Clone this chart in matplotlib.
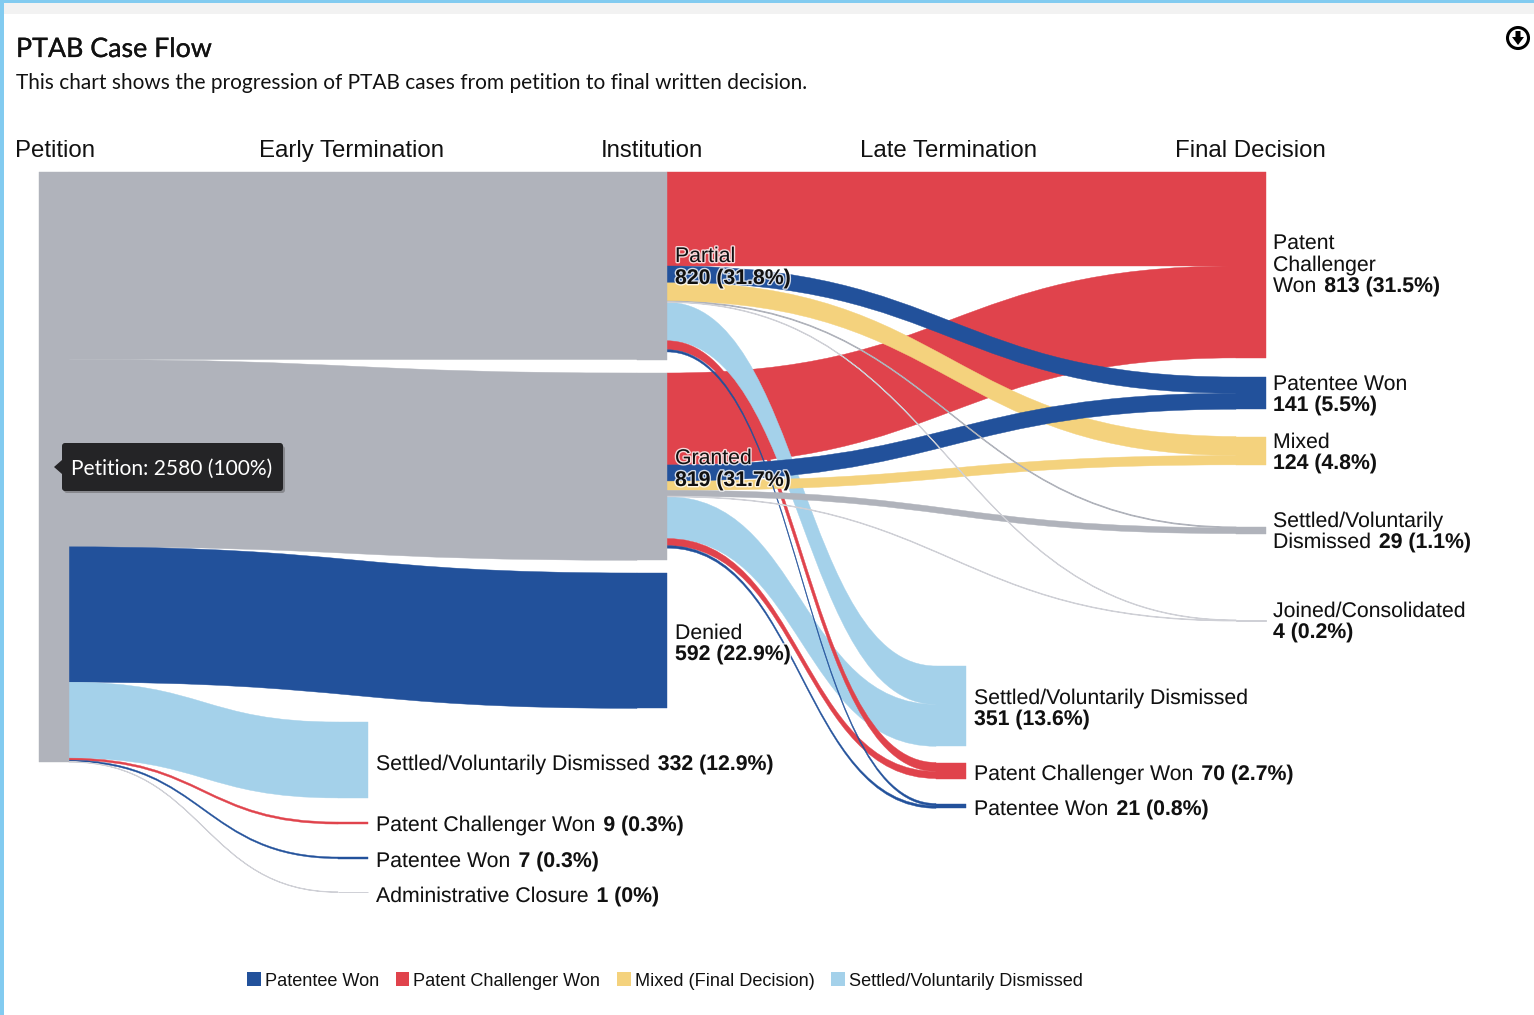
#!/usr/bin/env python3
import matplotlib
matplotlib.use("Agg")
import matplotlib.pyplot as plt
import matplotlib.patheffects as pe
from matplotlib.path import Path
from matplotlib.patches import PathPatch, Rectangle, Circle, Polygon, FancyBboxPatch, Patch

BLUE = "#22519b"
RED = "#e0434c"
YELLOW = "#f4d27d"
LIGHT = "#a4d1ea"
GREY = "#b0b3bb"
PALE = "#cfd0d6"

# nodes: name, column, cases
node_names = ["Petition", "Partial", "Granted", "Denied",
              "EarlySettled", "EarlyPC", "EarlyPO", "EarlyAdmin",
              "LateSettled", "LatePC", "LatePO",
              "FinalPC", "FinalPO", "FinalMixed", "FinalSettled", "FinalJoined"]
node_cases = [2580, 820, 819, 592, 332, 9, 7, 1, 351, 70, 21, 813, 141, 124, 29, 4]
node_colors = [GREY, GREY, GREY, BLUE, LIGHT, RED, BLUE, PALE, LIGHT, RED, BLUE,
               RED, BLUE, YELLOW, GREY, PALE]

# links in stacking order at each node
link_from = ["Petition"] * 7 + \
    ["Partial"] * 8 + ["Granted"] * 8
link_to = ["Partial", "Granted", "Denied", "EarlySettled", "EarlyPC", "EarlyPO", "EarlyAdmin",
           "FinalPC", "FinalPO", "FinalMixed", "FinalSettled", "FinalJoined", "LateSettled", "LatePC", "LatePO",
           "FinalPC", "FinalPO", "FinalMixed", "FinalSettled", "FinalJoined", "LateSettled", "LatePC", "LatePO"]
link_cases = [820, 819, 592, 332, 9, 7, 1,
              411, 71, 83, 3, 2, 168, 39, 10,
              402, 70, 41, 26, 2, 183, 31, 11]
link_colors = [GREY, GREY, BLUE, LIGHT, RED, BLUE, PALE,
               RED, BLUE, YELLOW, GREY, PALE, LIGHT, RED, BLUE,
               RED, BLUE, YELLOW, GREY, PALE, LIGHT, RED, BLUE]

column_titles = ["Petition", "Early Termination", "Institution", "Late Termination", "Final Decision"]
legend_labels = ["Patentee Won", "Patent Challenger Won", "Mixed (Final Decision)", "Settled/Voluntarily Dismissed"]

# layout in pixels
PX_PER_CASE = 590 / 2580
NODE_W = 30
column_of = dict(Petition=0, EarlySettled=1, EarlyPC=1, EarlyPO=1, EarlyAdmin=1,
                 Partial=2, Granted=2, Denied=2, LateSettled=3, LatePC=3, LatePO=3,
                 FinalPC=4, FinalPO=4, FinalMixed=4, FinalSettled=4, FinalJoined=4)
column_x = [39, 338, 637, 936, 1236]
node_top = dict(Petition=172, Partial=172, Granted=373, Denied=573,
                EarlySettled=722, EarlyPC=822, EarlyPO=857, EarlyAdmin=892,
                LateSettled=666, LatePC=762.5, LatePO=803.5,
                FinalPC=172, FinalPO=377, FinalMixed=436.5, FinalSettled=527, FinalJoined=620)
CURVE = 0.5
# back to front, everything out of Petition goes first
layers = [("Final", RED), ("Late", LIGHT), ("Late", RED), ("Final", YELLOW),
          ("Final", BLUE), ("Late", BLUE), ("Final", GREY), ("Final", PALE)]

fig = plt.figure(figsize=(15.34, 10.15), dpi=100)
ax = fig.add_axes([0, 0, 1, 1])
ax.set_xlim(0, 1534)
ax.set_ylim(1015, 0)
ax.axis("off")

# page frame
ax.add_patch(Rectangle((0, 0), 1534, 14, fc="#f2f2f2", ec="none"))
ax.add_patch(Rectangle((0, 0), 1534, 3, fc="#82cbf0", ec="none"))
ax.add_patch(Rectangle((0, 0), 4, 1015, fc="#82cbf0", ec="none"))

# stack the links on their nodes
out_y = dict(node_top)
in_y = dict(node_top)
ribbons = []
for src, dst, n, col in zip(link_from, link_to, link_cases, link_colors):
    h = n * PX_PER_CASE
    x0 = column_x[column_of[src]] + NODE_W
    x1 = column_x[column_of[dst]]
    layer = -1
    for i, (prefix, c) in enumerate(layers):
        if src != "Petition" and dst.startswith(prefix) and col == c:
            layer = i
    ribbons.append((layer, x0, x1, out_y[src], in_y[dst], h, col))
    out_y[src] += h
    in_y[dst] += h

for layer, x0, x1, y0, y1, h, c in sorted(ribbons, key=lambda r: r[0]):
    k = (x1 - x0) * CURVE
    verts = [(x0, y0), (x0 + k, y0), (x1 - k, y1), (x1, y1),
             (x1, y1 + h), (x1 - k, y1 + h), (x0 + k, y0 + h), (x0, y0 + h), (x0, y0)]
    codes = [Path.MOVETO, Path.CURVE4, Path.CURVE4, Path.CURVE4,
             Path.LINETO, Path.CURVE4, Path.CURVE4, Path.CURVE4, Path.CLOSEPOLY]
    # very thin links still show about a pixel wide
    lw = 0.7 if h < 1 else 0.3
    ax.add_patch(PathPatch(Path(verts, codes), fc=c, ec=c, lw=lw, zorder=2))

for name, n, c in zip(node_names, node_cases, node_colors):
    x = column_x[column_of[name]]
    h = n * PX_PER_CASE
    ax.add_patch(Rectangle((x, node_top[name]), NODE_W, h, fc=c, ec=c, lw=0.7 if h < 1 else 0.3, zorder=3))

# header text
ax.text(16, 57, "PTAB Case Flow", fontsize=19.3, family="Lato", color="#111111",
        path_effects=[pe.withStroke(linewidth=0.2, foreground="#111111")])
ax.text(16, 89, "This chart shows the progression of PTAB cases from petition to final written decision.",
        fontsize=15, family="Lato", color="#111111")
ax.add_patch(Circle((1518, 38), 10.5, fc="white", ec="black", lw=2.2))
ax.add_patch(Polygon([(1515.5, 31), (1520.5, 31), (1520.5, 37), (1524, 37), (1518, 45), (1512, 37), (1515.5, 37)],
                     fc="black", ec="none"))

for title, x in zip(column_titles, [15, 259, 601, 860, 1175]):
    ax.text(x, 157, title, family="Liberation Sans", fontsize=17.3, color="#111111", zorder=6)

LABEL = dict(family="Liberation Sans", fontsize=15.3, color="#111111", zorder=6)
renderer = fig.canvas.get_renderer()
halo = [pe.withStroke(linewidth=2, foreground="white", alpha=0.8)]


def label(x, y, regular, bold=""):
    end = x
    if regular:
        t = ax.text(x, y, regular, va="baseline", path_effects=halo, **LABEL)
        end = t.get_window_extent(renderer).x1 + 8
    if bold:
        ax.text(end if regular else x, y, bold, va="baseline", weight="bold", path_effects=halo, **LABEL)


label(675, 262, "Partial")
label(675, 284, "", "820 (31.8%)")
label(675, 464, "Granted")
label(675, 486, "", "819 (31.7%)")
label(675, 639, "Denied")
label(675, 660, "", "592 (22.9%)")
label(376, 770, "Settled/Voluntarily Dismissed", "332 (12.9%)")
label(376, 831, "Patent Challenger Won", "9 (0.3%)")
label(376, 867, "Patentee Won", "7 (0.3%)")
label(376, 902, "Administrative Closure", "1 (0%)")
label(974, 704, "Settled/Voluntarily Dismissed")
label(974, 725, "", "351 (13.6%)")
label(974, 780, "Patent Challenger Won", "70 (2.7%)")
label(974, 815, "Patentee Won", "21 (0.8%)")
label(1273, 249, "Patent")
label(1273, 271, "Challenger")
label(1273, 292, "Won", "813 (31.5%)")
label(1273, 390, "Patentee Won")
label(1273, 411, "", "141 (5.5%)")
label(1273, 448, "Mixed")
label(1273, 469, "", "124 (4.8%)")
label(1273, 527, "Settled/Voluntarily")
label(1273, 548, "Dismissed", "29 (1.1%)")
label(1273, 617, "Joined/Consolidated")
label(1273, 638, "", "4 (0.2%)")

# tooltip
ax.add_patch(FancyBboxPatch((64, 446), 221, 47, boxstyle="round,pad=0,rounding_size=3",
                            fc="#555555", ec="none", alpha=0.45, zorder=7))
ax.add_patch(FancyBboxPatch((62, 443), 221, 48, boxstyle="round,pad=0,rounding_size=3",
                            fc="#242426", ec="none", zorder=8))
ax.add_patch(Polygon([(62, 460), (54, 467), (62, 474)], fc="#242426", ec="none", zorder=8))
ax.text(71, 475, "Petition: 2580 (100%)", family="Lato", fontsize=15.1, color="white", zorder=9)

# legend
handles = [Patch(fc=c, ec="none") for c in [BLUE, RED, YELLOW, LIGHT]]
ax.legend(handles, legend_labels, ncols=4, frameon=False, loc="center left",
          bbox_to_anchor=(247 / 1534, 1 - 981 / 1015),
          prop=dict(family="Liberation Sans", size=13.1), labelcolor="#111111",
          handlelength=0.75, handleheight=0.75, handletextpad=0.22, columnspacing=0.92,
          borderpad=0, borderaxespad=0)

fig.savefig("out.png", dpi=100, facecolor="white")
